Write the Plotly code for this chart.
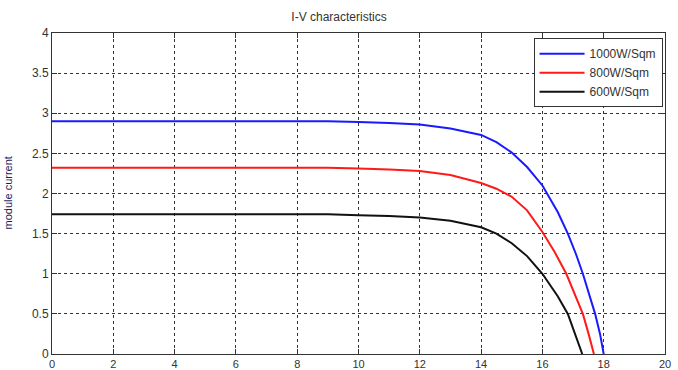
import plotly.graph_objects as go

# I-V curve data (module voltage vs module current)
v_1000 = [0, 2, 4, 6, 8, 9, 10, 11, 12, 13, 14, 14.5, 15, 15.5, 16, 16.15, 16.5, 16.83, 17.1, 17.32, 17.52, 17.72, 17.88, 18.0]
i_1000 = [2.90, 2.90, 2.90, 2.90, 2.90, 2.90, 2.89, 2.88, 2.86, 2.81, 2.73, 2.64, 2.51, 2.33, 2.10, 2.0, 1.77, 1.5, 1.24, 1.0, 0.76, 0.5, 0.25, 0.0]

v_800 = [0, 2, 4, 6, 8, 9, 10, 11, 12, 13, 14, 14.5, 15, 15.5, 16, 16.4, 16.78, 17.05, 17.32, 17.5, 17.68]
i_800 = [2.32, 2.32, 2.32, 2.32, 2.32, 2.32, 2.31, 2.30, 2.28, 2.23, 2.13, 2.06, 1.96, 1.79, 1.52, 1.27, 1.0, 0.76, 0.5, 0.26, 0.0]

v_600 = [0, 2, 4, 6, 8, 9, 10, 11, 12, 13, 14, 14.5, 15, 15.5, 16, 16.5, 16.83, 17.05, 17.3]
i_600 = [1.74, 1.74, 1.74, 1.74, 1.74, 1.74, 1.73, 1.72, 1.70, 1.66, 1.58, 1.50, 1.38, 1.22, 1.0, 0.72, 0.5, 0.27, 0.0]

series_names = ["1000W/Sqm", "800W/Sqm", "600W/Sqm"]
series_colors = ["#1a1aff", "#ff1a1a", "#111111"]

fig = go.Figure()
for x, y, name, c in zip([v_1000, v_800, v_600], [i_1000, i_800, i_600], series_names, series_colors):
    fig.add_trace(go.Scatter(x=x, y=y, mode="lines", name=name,
                             line=dict(color=c, width=2)))

axis_common = dict(showgrid=True, gridcolor="#333333", griddash="dot", gridwidth=1,
                   showline=True, linecolor="#333333", linewidth=1, mirror="allticks",
                   ticks="inside", ticklen=5, tickcolor="#333333",
                   zeroline=False, automargin=False)

fig.update_xaxes(range=[0, 20], dtick=2, tick0=0, **axis_common,
                 tickfont=dict(family="Liberation Sans, Arial", size=11, color="#333333"))
fig.update_yaxes(range=[0, 4], dtick=0.5, tick0=0, **axis_common,
                 tickfont=dict(family="Liberation Sans, Arial", size=12, color="#333333"))

fig.update_layout(
    width=678, height=370,
    margin=dict(l=52, r=13, t=33, b=16, autoexpand=False),
    paper_bgcolor="white", plot_bgcolor="white",
    title=dict(text="I-V characteristics", x=0.5, xanchor="center", y=1 - 17 / 370, yanchor="middle",
               font=dict(family="Liberation Sans, Arial", size=12, color="#333333")),
    legend=dict(x=0.996, y=0.984, xanchor="right", yanchor="top",
                bgcolor="white", bordercolor="#333333", borderwidth=1,
                font=dict(family="Liberation Sans, Arial", size=12, color="#333333"),
                tracegroupgap=0, itemwidth=45),
    showlegend=True,
)

fig.add_annotation(text="module current", xref="paper", yref="paper",
                   x=-45 / 613, y=0.5, xanchor="center", yanchor="middle",
                   textangle=-90, showarrow=False,
                   font=dict(family="Liberation Sans, Arial", size=11, color="#1a1a5a"))

fig.write_html("out.html", config={"displayModeBar": False},
               post_script="document.body.style.margin='0';")
